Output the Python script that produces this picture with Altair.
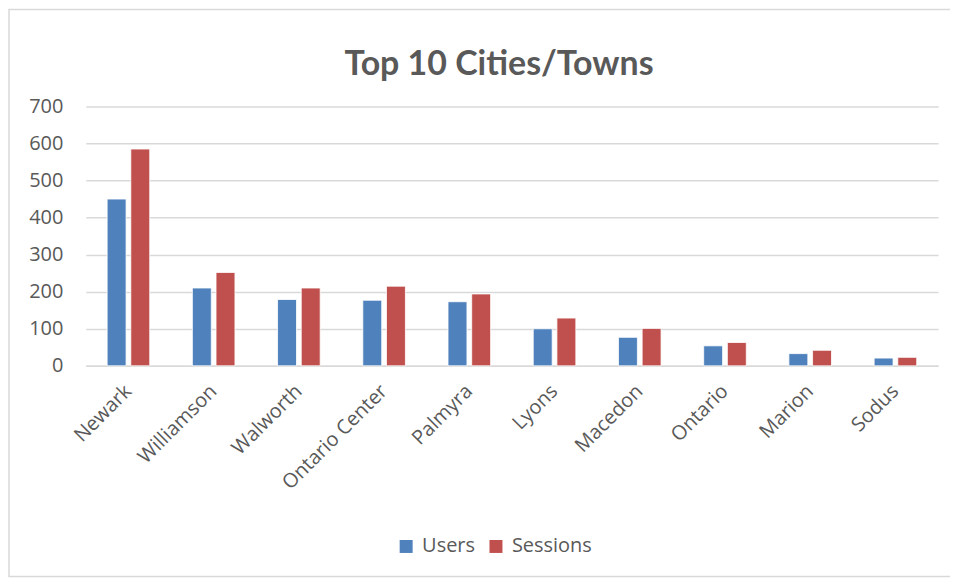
import altair as alt
import pandas as pd

cities = ["Newark", "Williamson", "Walworth", "Ontario Center", "Palmyra",
          "Lyons", "Macedon", "Ontario", "Marion", "Sodus"]
users = [450, 210, 179, 177, 173, 100, 77, 54, 33, 21]
sessions = [585, 252, 210, 215, 194, 129, 101, 63, 42, 23]
series = ["Users", "Sessions"]
colors = ["#4F81BD", "#C0504D"]
y_ticks = [0, 100, 200, 300, 400, 500, 600, 700]
title_text = "Top 10 Cities/Towns"

rows = []
for c, u, s in zip(cities, users, sessions):
    rows.append({"City": c, "Series": "Users", "Value": u})
    rows.append({"City": c, "Series": "Sessions", "Value": s})
df = pd.DataFrame(rows)

FONT = "Open Sans"
GRAY = "#595959"

bars = alt.Chart(df).mark_bar(stroke="white", strokeWidth=0.8).encode(
    x=alt.X("City:N", sort=cities, title=None,
            scale=alt.Scale(paddingInner=0.5, paddingOuter=0.25),
            axis=alt.Axis(labelAngle=-45, labelAlign="right", labelBaseline="middle",
                          labelFontSize=20, labelColor=GRAY, labelFont=FONT,
                          labelPadding=22, ticks=False, domainColor="#D9D9D9",
                          domainWidth=1.5, grid=False, labelOverlap=False)),
    xOffset=alt.XOffset("Series:N", sort=series,
                        scale=alt.Scale(paddingInner=0.2)),
    y=alt.Y("Value:Q", title=None,
            scale=alt.Scale(domain=[0, 700], nice=False),
            axis=alt.Axis(values=y_ticks, labelFontSize=20, labelColor=GRAY,
                          labelFont=FONT, labelPadding=23, ticks=False,
                          domain=False, gridColor="#D9D9D9", gridWidth=1.5)),
    color=alt.Color("Series:N", sort=series,
                    scale=alt.Scale(domain=series, range=colors),
                    legend=alt.Legend(title=None, orient="none", legendX=311,
                                      legendY=431, direction="horizontal",
                                      symbolType="square", symbolSize=169,
                                      symbolStrokeWidth=0, labelFontSize=20,
                                      labelColor=GRAY, labelFont=FONT,
                                      columnPadding=10, labelOffset=6)),
)

one = pd.DataFrame({"t": [title_text]})
border = alt.Chart(one).mark_rect(fill=None, stroke="#D9D9D9",
                                  strokeWidth=1.5).encode(
    x=alt.value(-77), x2=alt.value(880), y=alt.value(-97), y2=alt.value(471)
)
title = alt.Chart(one).mark_text(font="Lato", fontSize=34, fontWeight="bold",
                                 color=GRAY, align="center",
                                 baseline="alphabetic").encode(
    text="t:N", x=alt.value(414), y=alt.value(-31)
)

chart = alt.layer(border, title, bars).properties(
    width=854, height=260,
    autosize=alt.AutoSizeParams(type="none"),
    padding={"left": 78, "top": 98, "right": 12, "bottom": 212},
).configure_view(stroke=None)

chart.save("out.html", embed_options={"renderer": "svg", "actions": False})
